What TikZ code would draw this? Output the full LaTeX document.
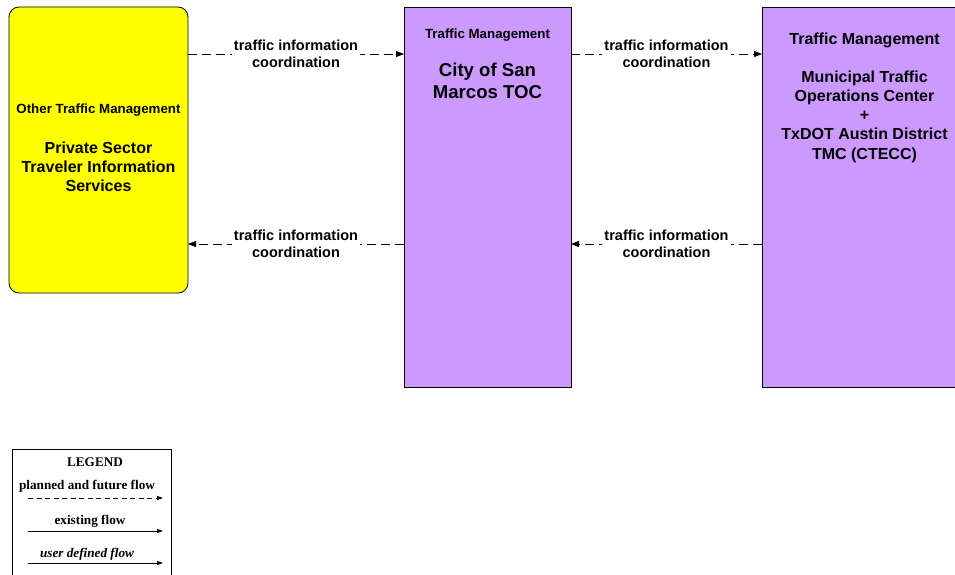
\documentclass[tikz,border=0pt]{standalone}
\usepackage{fontspec}
\setmainfont{Liberation Serif}
\setsansfont{Liberation Sans}
\usetikzlibrary{arrows.meta,positioning}
\definecolor{termyellow}{RGB}{255,255,0}
\definecolor{tmpurple}{RGB}{204,153,255}

\begin{document}
\begin{tikzpicture}[x=1pt, y=-1pt,
  every node/.style={inner sep=0pt, outer sep=0pt},
  tmbox/.style={draw, line width=0.8pt, anchor=north west, minimum height=380pt},
  tmtitle/.style={font=\sffamily\bfseries\fontsize{13.3}{16}\selectfont, align=center},
  tmname/.style={font=\sffamily\bfseries\fontsize{16}{19.2}\selectfont, align=center},
  plannedflow/.style={draw, line width=0.8pt, dash pattern=on 9pt off 5pt, -{Triangle[length=8pt, width=6pt]}},
  flowlabel/.style={fill=white, inner sep=2pt, font=\sffamily\bfseries\fontsize{14.5}{17}\selectfont, align=center},
  legendtext/.style={font=\rmfamily\bfseries\fontsize{13.2}{14}\selectfont},
  legendflow/.style={draw, line width=0.8pt, -{Triangle[length=6pt, width=4pt]}}
]
\useasboundingbox (0,0) rectangle (955,575);

% terminators
\node[tmbox, fill=termyellow, rounded corners=10pt, minimum width=179pt, minimum height=286pt] (private) at (9,7) {};
\node[tmbox, fill=tmpurple, minimum width=167pt] (sanmarcos) at (404,7) {};
\node[tmbox, fill=tmpurple, minimum width=205pt] (ctecc) at (762,7) {};

\node[tmtitle] (privatetitle) at (98.5,110.5) {Other Traffic Management};
\node[tmname] (privatename) at (98.5,166.5) {Private Sector\\Traveler Information\\Services};

\node[tmtitle] (sanmarcostitle) at (487.5,35.5) {Traffic Management};
\node[tmname, font=\sffamily\bfseries\fontsize{18.6}{22}\selectfont] (sanmarcosname) at (487.5,81) {City of San\\Marcos TOC};

\node[tmname] (cteccitle) at (864.5,40.5) {Traffic Management};
\node[tmname] (ctecname) at (864.5,116.5) {Municipal Traffic\\Operations Center\\+\\TxDOT Austin District\\TMC (CTECC)};

% flows
\draw[plannedflow] ([yshift=-47pt]private.north east) -- ([yshift=-47pt]sanmarcos.north west)
  node[flowlabel, midway] {traffic information\\coordination};
\draw[plannedflow] ([yshift=-47pt]sanmarcos.north east) -- ([yshift=-47pt]ctecc.north west)
  node[flowlabel, midway] {traffic information\\coordination};
\draw[plannedflow] ([yshift=-237pt]sanmarcos.north west) -- ([yshift=-237pt]private.north east)
  node[flowlabel, midway] {traffic information\\coordination};
\draw[plannedflow] ([yshift=-237pt]ctecc.north west) -- ([yshift=-237pt]sanmarcos.north east)
  node[flowlabel, midway] {traffic information\\coordination};

% legend
\node[draw, line width=0.8pt, anchor=north west, minimum width=159pt, minimum height=140pt] (legend) at (12,449) {};
\node[legendtext] (legendtitle) at (95,462) {LEGEND};
\node[legendtext] (plannedtext) at (87,486) {planned and future flow};
\coordinate (plannedA) at (28,498);
\coordinate (plannedB) at (163,498);
\draw[legendflow, dash pattern=on 5pt off 3.5pt] (plannedA) -- (plannedB);
\node[legendtext] (existingtext) at (90,521) {existing flow};
\coordinate (existingA) at (28,531);
\coordinate (existingB) at (163,531);
\draw[legendflow] (existingA) -- (existingB);
\node[legendtext, font=\rmfamily\bfseries\itshape\fontsize{13.2}{14}\selectfont] (usertext) at (87,554) {user defined flow};
\coordinate (userA) at (28,563);
\coordinate (userB) at (163,563);
\draw[legendflow] (userA) -- (userB);
\end{tikzpicture}
\end{document}
